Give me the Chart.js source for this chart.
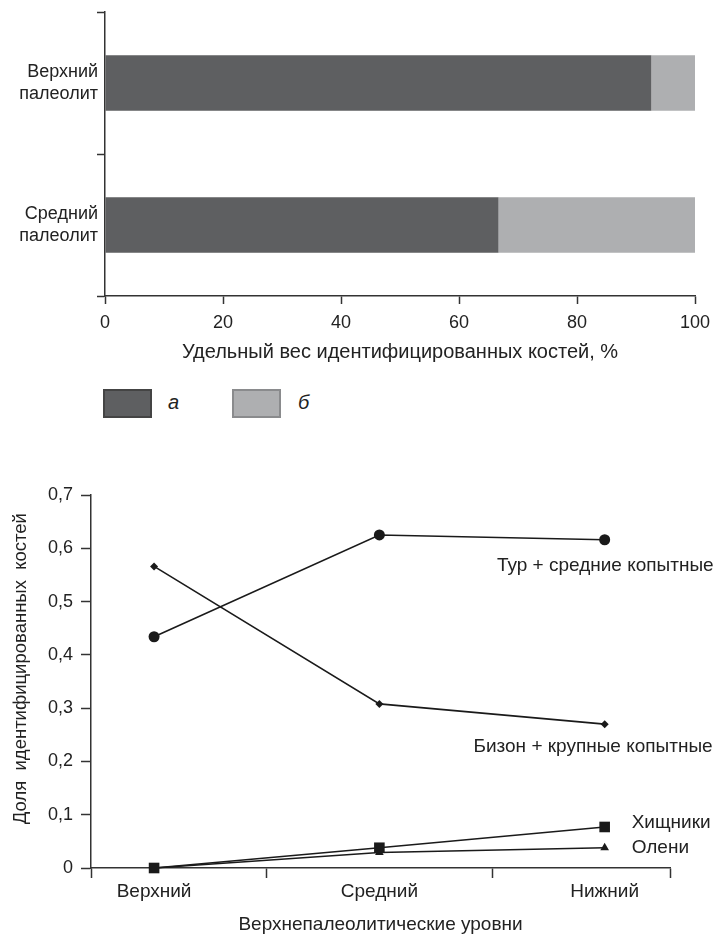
<!DOCTYPE html>
<html><head><meta charset="utf-8">
<script src="https://cdn.jsdelivr.net/npm/chart.js@4.4.0/dist/chart.umd.min.js"></script>
<style>
body{margin:0;background:#fff;width:726px;height:935px;position:relative;overflow:hidden;font-family:"Liberation Sans",Arial,sans-serif;color:#222}
#c1{position:absolute;left:0;top:0}
#c2{position:absolute;left:0;top:470px}
.lbox{position:absolute;top:389px;width:45px;height:25px;border:2px solid #555}
.ltxt{position:absolute;top:388px;height:29px;line-height:29px;font-size:20px;font-style:italic;color:#222}
</style></head><body>
<canvas id="c1" width="726" height="363"></canvas>
<canvas id="c2" width="726" height="465"></canvas>
<div id="legend"></div>
<script>
// ---- top chart data ----
const periods = [['Верхний','палеолит'],['Средний','палеолит']];
const shareA = [92.6, 66.7];
const shareB = [7.4, 33.3];
const xTicks1 = [0, 20, 40, 60, 80, 100];
const legendNames = ['а', 'б'];
const barColors = ['#5e5f61', '#aeafb1'];
const xTitle1 = 'Удельный вес идентифицированных костей, %';

// ---- bottom chart data ----
const levels = ['Верхний', 'Средний', 'Нижний'];
const turSeries = [0.434, 0.625, 0.616];
const bisonSeries = [0.566, 0.308, 0.270];
const predSeries = [0, 0.038, 0.077];
const deerSeries = [0, 0.029, 0.038];
const yTicks2 = [0, 0.1, 0.2, 0.3, 0.4, 0.5, 0.6, 0.7];
const seriesNames = ['Тур + средние копытные', 'Бизон + крупные копытные', 'Хищники', 'Олени'];
const xTitle2 = 'Верхнепалеолитические уровни';
const yTitle2 = '\u00a0\u00a0\u00a0\u00a0\u00a0Доля  идентифицированных  костей';

const FONT = '"Liberation Sans", Arial, sans-serif';
const INK = '#222';
const AX = '#333';

// legend (HTML)
const legendPos = [{box:103, txt:168}, {box:232, txt:298}];
const lg = document.getElementById('legend');
legendNames.forEach((n, i) => {
  const b = document.createElement('div');
  b.className = 'lbox'; b.style.left = legendPos[i].box + 'px'; b.style.background = barColors[i];
  b.style.borderColor = i === 0 ? '#444' : '#8a8b8d';
  lg.appendChild(b);
  const t = document.createElement('div');
  t.className = 'ltxt'; t.style.left = legendPos[i].txt + 'px'; t.textContent = n;
  lg.appendChild(t);
});

const noPad = s => { s.paddingTop = 0; s.paddingBottom = 0; s.paddingLeft = 0; s.paddingRight = 0; };

new Chart(document.getElementById('c1'), {
  type: 'bar',
  data: {
    labels: periods,
    datasets: [
      {label: legendNames[0], data: shareA, backgroundColor: barColors[0], barPercentage: 0.39, categoryPercentage: 1},
      {label: legendNames[1], data: shareB, backgroundColor: barColors[1], barPercentage: 0.39, categoryPercentage: 1}
    ]
  },
  options: {
    indexAxis: 'y', responsive: false, animation: false, devicePixelRatio: 1,
    layout: {padding: {left: 0, right: 31, top: 12, bottom: 0}},
    plugins: {legend: {display: false}, tooltip: {enabled: false}},
    scales: {
      x: {
        type: 'linear', stacked: true, min: 0, max: 100,
        afterBuildTicks: s => { s.ticks = xTicks1.map(v => ({value: v})); },
        afterFit: s => { s.height = 67; noPad(s); },
        ticks: {color: INK, font: {family: FONT, size: 18}, padding: 8},
        grid: {drawOnChartArea: false, tickLength: 8, tickColor: AX, tickWidth: 1.5},
        border: {color: AX, width: 1.5},
        title: {display: true, text: xTitle1, color: INK, font: {family: FONT, size: 20}, padding: {top: 0, bottom: -1}}
      },
      y: {
        type: 'category', stacked: true,
        afterFit: s => { s.width = 105; noPad(s); },
        ticks: {color: INK, font: {family: FONT, size: 18, lineHeight: 1.25}, padding: -1},
        grid: {offset: true, drawOnChartArea: false, tickLength: 8, tickColor: AX, tickWidth: 1.5},
        border: {color: AX, width: 1.5}
      }
    }
  }
});

const endLabelOffsets = [
  {dx: 109, dy: 26, align: 'right'},
  {dx: 108, dy: 23, align: 'right'},
  {dx: 27, dy: -4, align: 'left'},
  {dx: 27, dy: 0, align: 'left'}
];
const endLabels = {
  id: 'endLabels',
  afterDatasetsDraw(chart) {
    const ctx = chart.ctx;
    ctx.save();
    ctx.fillStyle = INK;
    ctx.font = '19px ' + FONT;
    ctx.textBaseline = 'middle';
    chart.data.datasets.forEach((ds, i) => {
      const meta = chart.getDatasetMeta(i);
      const p = meta.data[meta.data.length - 1];
      const o = endLabelOffsets[ds.noteIndex];
      ctx.textAlign = o.align;
      ctx.fillText(ds.label, p.x + o.dx, p.y + o.dy);
    });
    ctx.restore();
  }
};

const mk = (vals) => vals.map((v, i) => ({x: i, y: v}));
const lineBase = {borderColor: '#1a1a1a', backgroundColor: '#1a1a1a', borderWidth: 1.6, clip: false, tension: 0, pointBorderWidth: 0};

new Chart(document.getElementById('c2'), {
  type: 'line',
  data: {
    datasets: [
      Object.assign({}, lineBase, {label: seriesNames[0], noteIndex: 0, data: mk(turSeries), pointStyle: 'circle', pointRadius: 5.5}),
      Object.assign({}, lineBase, {label: seriesNames[1], noteIndex: 1, data: mk(bisonSeries), pointStyle: 'rectRot', pointRadius: 4}),
      Object.assign({}, lineBase, {label: seriesNames[2], noteIndex: 2, data: mk(predSeries), pointStyle: 'rect', pointRadius: 7.5}),
      Object.assign({}, lineBase, {label: seriesNames[3], noteIndex: 3, data: mk(deerSeries), pointStyle: 'triangle', pointRadius: 5})
    ]
  },
  options: {
    responsive: false, animation: false, devicePixelRatio: 1,
    layout: {padding: {left: 0, right: 56, top: 25, bottom: 0}},
    plugins: {legend: {display: false}, tooltip: {enabled: false}},
    scales: {
      x: {
        type: 'linear', min: -0.28, max: levels.length - 1 + 0.29,
        afterBuildTicks: s => {
          const t = [s.min];
          levels.forEach((_, i) => { t.push(i); if (i < levels.length - 1) t.push(i + 0.5); });
          t.push(s.max);
          s.ticks = t.map(v => ({value: v}));
        },
        afterFit: s => { s.height = 67; noPad(s); },
        ticks: {
          color: INK, font: {family: FONT, size: 19}, padding: 2, autoSkip: false, maxRotation: 0,
          callback: v => Number.isInteger(v) ? levels[v] : ''
        },
        grid: {
          drawOnChartArea: false, tickLength: 10, tickWidth: 1.5,
          tickColor: c => (c.tick && Number.isInteger(c.tick.value)) ? 'rgba(0,0,0,0)' : AX
        },
        border: {color: AX, width: 1.5},
        title: {display: true, text: xTitle2, color: INK, font: {family: FONT, size: 19}, padding: {top: 0, bottom: -1}}
      },
      y: {
        min: 0, max: 0.7,
        afterBuildTicks: s => { s.ticks = yTicks2.map(v => ({value: v})); },
        afterFit: s => { s.width = 91; noPad(s); },
        ticks: {color: INK, font: {family: FONT, size: 18}, padding: 8,
          callback: v => v === 0 ? '0' : v.toFixed(1).replace('.', ',')},
        grid: {drawOnChartArea: false, tickLength: 10, tickColor: AX, tickWidth: 1.5},
        border: {color: AX, width: 1.5},
        title: {display: true, text: yTitle2, color: INK, font: {family: FONT, size: 18.5}, padding: {top: 10, bottom: 0}}
      }
    }
  },
  plugins: [endLabels]
});
</script>
</body></html>
